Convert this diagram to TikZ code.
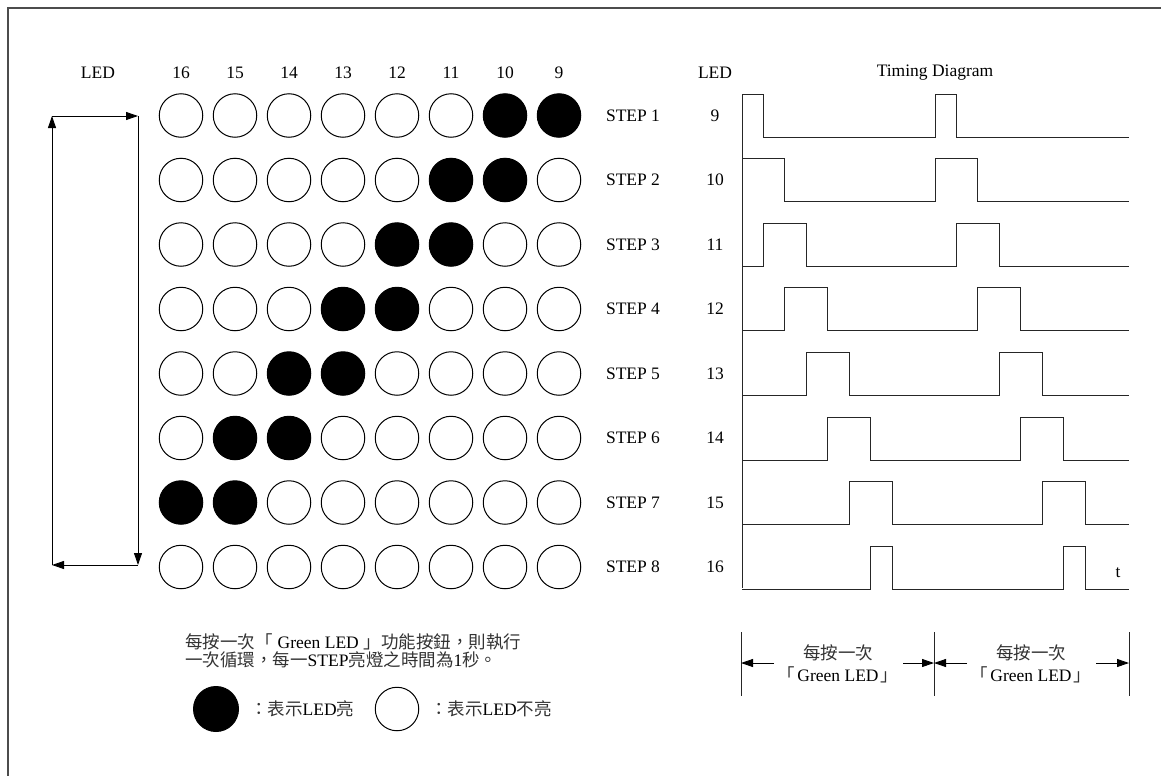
\documentclass[tikz,border=0pt]{standalone}
\usepackage{fontspec}
\setmainfont{Liberation Serif}
\newfontfamily\cjk{Noto Sans CJK TC}
\usetikzlibrary{arrows.meta}
\begin{document}
\begin{tikzpicture}[x=1pt,y=-1pt,
  every node/.style={font=\fontsize{17.5}{18}\selectfont, inner sep=0pt},
  led/.style={circle, draw, line width=1pt, minimum size=43.5pt},
  wave/.style={line width=0.9pt, black!85},
  tip/.style={line width=0.9pt, -{Triangle[length=12pt,width=8pt]}},
  frame/.style={line width=1.3pt, black!70},
  cj/.style={text=black!80}
]
\useasboundingbox (0,0) rectangle (1161,776);
\draw[frame] (1161,8) -- (8,8) -- (8,776);

% column headers
\node (hled) at (98,73) {LED};
\foreach \c in {1,...,8}{
  \pgfmathtruncatemacro\n{17-\c}
  \node (h\c) at ({181+54*(\c-1)},73) {\n};
}
% LED matrix
\foreach \r in {1,...,8}{
  \foreach \c in {1,...,8}{
    \pgfmathtruncatemacro\ison{and(\r<8,or(\c==8-\r,\c==9-\r))}
    \ifnum\ison=1 \def\fc{black}\else\def\fc{white}\fi
    \node[led, fill=\fc] (c\r-\c) at ({181+54*(\c-1)},{115.5+64.5*(\r-1)}) {};
  }
  \pgfmathtruncatemacro\m{\r+8}
  \node (s\r) at (633,{115.5+64.5*(\r-1)}) {STEP \r};
  \node (n\r) at (715,{115.5+64.5*(\r-1)}) {\m};
}
\node (tled) at (715,73) {LED};
\node (title) at (935,73) {Timing Diagram};

% cycle arrow
\coordinate (tl) at (52,116);
\coordinate (tr) at (138,116);
\coordinate (br) at (138,565);
\coordinate (bl) at (52,565);
\draw[tip] (tl) -- (tr);
\draw[tip] (tr) -- (br);
\draw[tip] (br) -- (bl);
\draw[tip] (bl) -- (tl);

% timing diagram
\coordinate (ax0) at (742,94);
\coordinate (ax1) at (742,588);
\draw[wave] (ax0) -- (ax1);
\foreach \i/\a/\b in {0/0/1,1/0/2,2/1/3,3/2/4,4/3/5,5/4/6,6/5/7,7/6/7}{
  \pgfmathsetmacro\yh{94+64.6*\i}
  \pgfmathsetmacro\yl{\yh+43}
  \pgfmathsetmacro\xa{742+21.45*\a}
  \pgfmathsetmacro\xb{742+21.45*\b}
  \pgfmathsetmacro\xc{\xa+193}
  \pgfmathsetmacro\xd{\xb+193}
  \draw[wave] (742,\yl) -- (\xa,\yl) -- (\xa,\yh) -- (\xb,\yh) -- (\xb,\yl)
     -- (\xc,\yl) -- (\xc,\yh) -- (\xd,\yh) -- (\xd,\yl) -- (1129,\yl);
}
\node (t) at (1118,573) {t};

% bottom brackets
\foreach \k/\x in {a/741,b/934,c/1129}{
  \coordinate (v\k0) at (\x,632);
  \coordinate (v\k1) at (\x,696);
  \draw[wave] (v\k0) -- (v\k1);
  \coordinate (m\k) at (\x,663);
}
\coordinate (p1) at (774,663);
\coordinate (p2) at (903,663);
\coordinate (p3) at (967,663);
\coordinate (p4) at (1096,663);
\draw[tip] (p1) -- (ma);
\draw[tip] (p2) -- (mb);
\draw[tip] (p3) -- (mb);
\draw[tip] (p4) -- (mc);
\node[cj] (b1) at (838,653) {\cjk 每按一次};
\node (b2) at (838,675) {{\cjk\color{black!80}「}\hspace{2pt}Green LED\hspace{2pt}{\cjk\color{black!80}」}};
\node[cj] (b3) at (1031,653) {\cjk 每按一次};
\node (b4) at (1031,675) {{\cjk\color{black!80}「}\hspace{2pt}Green LED\hspace{2pt}{\cjk\color{black!80}」}};

% legend
\node[anchor=west] (l1) at (185,642) {{\cjk\color{black!80}每按一次「}\hspace{5pt}Green LED\hspace{5pt}{\cjk\color{black!80}」功能按鈕，則執行}};
\node[anchor=west] (l2) at (185,660) {{\cjk\color{black!80}一次循環，每一}STEP{\cjk\color{black!80}亮燈之時間為}1{\cjk\color{black!80}秒。}};
\node[led, fill=black, minimum size=45pt] (lon) at (216,709) {};
\node[anchor=west] (lont) at (250,709) {{\cjk\color{black!80}：表示}LED{\cjk\color{black!80}亮}};
\node[led] (loff) at (397,709) {};
\node[anchor=west] (lofft) at (430,709) {{\cjk\color{black!80}：表示}LED{\cjk\color{black!80}不亮}};
\end{tikzpicture}
\end{document}
